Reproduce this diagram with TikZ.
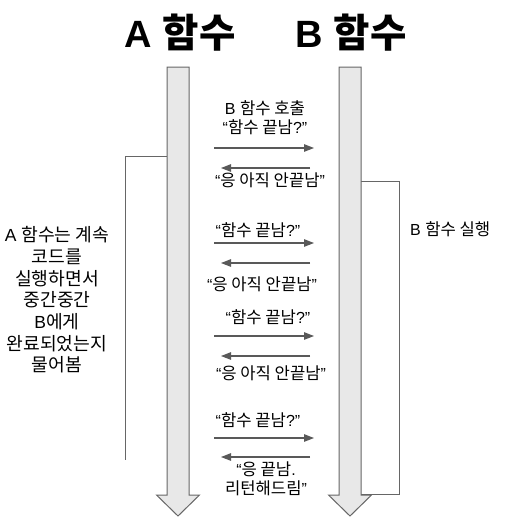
\documentclass[tikz,border=0pt]{standalone}
\usepackage{fontspec}
\setmainfont{Liberation Sans}
\newfontfamily\kr{Noto Sans CJK KR}[Scale=1.04]
\usetikzlibrary{arrows.meta}
\newcommand\K[1]{{\kr #1}}
\definecolor{shaftfill}{HTML}{E8E8E8}
\definecolor{shaftline}{HTML}{666666}
\definecolor{msgline}{HTML}{595959}
\tikzset{
  bigarrow/.style={fill=shaftfill,draw=shaftline,line width=1pt,line join=miter},
  bracket/.style={draw=shaftline,line width=1pt},
  msg/.style={draw=msgline,line width=1.2pt,-{Triangle[length=10pt,width=7.5pt]}},
  lbl/.style={font=\fontsize{16}{19}\selectfont,align=center,inner sep=0pt},
  title/.style={font=\fontsize{38}{42}\selectfont\bfseries,inner sep=0pt}
}
\begin{document}
\begin{tikzpicture}[x=1pt,y=-1pt]
\useasboundingbox (0,0) rectangle (522,520);
% brackets
\draw[bracket] (167,156) -- (125,156) -- (125,460);
\draw[bracket] (361,181) -- (399,181) -- (399,494) -- (361,494);
% big arrows
\draw[bigarrow] (167,67) -- (189,67) -- (189,495) -- (199.5,495) -- (178,516) -- (156.5,495) -- (167,495) -- cycle;
\draw[bigarrow] (339,67) -- (361,67) -- (361,495) -- (371.5,495) -- (350,516) -- (328.5,495) -- (339,495) -- cycle;
% titles
\node[title] (ta) at (180,33) {A \K{\bfseries 함수}};
\node[title] (tb) at (351,33) {B \K{\bfseries 함수}};
% side texts
\node[lbl,font=\fontsize{17.5}{21.7}\selectfont] (lt) at (57,300) {A \K{함수는 계속}\\\K{코드를}\\\K{실행하면서}\\\K{중간중간}\\B\K{에게}\\\K{완료되었는지}\\\K{물어봄}};
\node[lbl,anchor=west] (rt) at (410,229) {B \K{함수 실행}};
% message coordinates
\coordinate (r1s) at (214,148); \coordinate (r1e) at (314,148);
\coordinate (l1s) at (310,168); \coordinate (l1e) at (221,168);
\coordinate (r2s) at (214,243); \coordinate (r2e) at (314,243);
\coordinate (l2s) at (310,263); \coordinate (l2e) at (221,263);
\coordinate (r3s) at (214,336); \coordinate (r3e) at (314,336);
\coordinate (l3s) at (310,356); \coordinate (l3e) at (221,356);
\coordinate (r4s) at (214,438); \coordinate (r4e) at (314,438);
\coordinate (l4s) at (310,457); \coordinate (l4e) at (221,457);
\draw[msg] (r1s) -- (r1e); \draw[msg] (l1s) -- (l1e);
\draw[msg] (r2s) -- (r2e); \draw[msg] (l2s) -- (l2e);
\draw[msg] (r3s) -- (r3e); \draw[msg] (l3s) -- (l3e);
\draw[msg] (r4s) -- (r4e); \draw[msg] (l4s) -- (l4e);
% message labels
\node[lbl] (q1) at (265,117.5) {B \K{함수 호출}\\“\K{함수 끝남}?”};
\node[lbl] (a1) at (270,180) {“\K{응 아직 안끝남}”};
\node[lbl] (q2) at (258,230) {“\K{함수 끝남}?”};
\node[lbl] (a2) at (262,284) {“\K{응 아직 안끝남}”};
\node[lbl] (q3) at (268,317) {“\K{함수 끝남}?”};
\node[lbl] (a3) at (271,373) {“\K{응 아직 안끝남}”};
\node[lbl] (q4) at (258,420) {“\K{함수 끝남}?”};
\node[lbl] (a4) at (266,479) {“\K{응 끝남}.\\\K{리턴해드림}”};
\end{tikzpicture}
\end{document}
